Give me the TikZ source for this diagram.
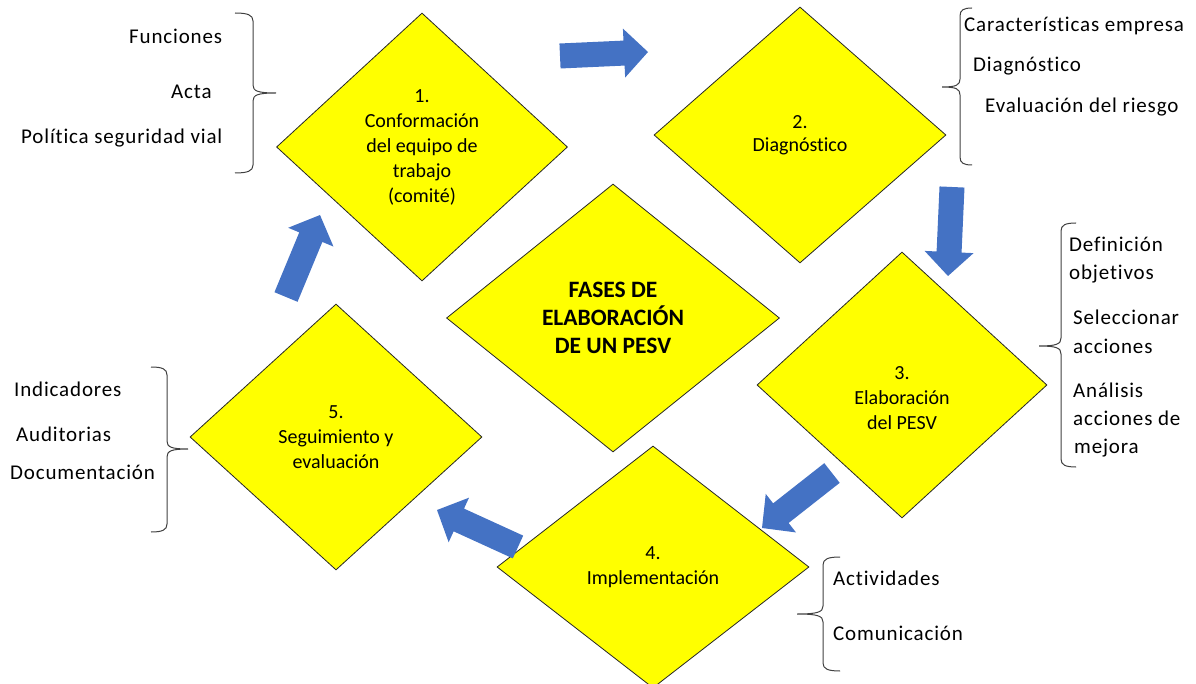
\documentclass[tikz,border=0pt]{standalone}
\usepackage{fontspec}
\setmainfont{Carlito}[Ligatures=NoCommon]
\newfontfamily\sidefont[LetterSpace=4,Ligatures=NoCommon]{Carlito}
\usetikzlibrary{shapes.geometric,calc}
\definecolor{dyellow}{HTML}{FFFF00}
\definecolor{ablue}{HTML}{4472C4}
\definecolor{bracegray}{HTML}{404040}
% block arrow from tail #1 to tip #2
\newcommand\blockarrow[2]{%
  \path ($(#2)!24pt!(#1)$) coordinate (#1hb);
  \fill[ablue] ($(#1)!12.5pt!90:(#2)$) -- ($(#1hb)!12.5pt!90:(#2)$) -- ($(#1hb)!24.5pt!90:(#2)$) -- (#2)
    -- ($(#1hb)!24.5pt!-90:(#2)$) -- ($(#1hb)!12.5pt!-90:(#2)$) -- ($(#1)!12.5pt!-90:(#2)$) -- cycle;}
% brace: #1 hook x, #2 stem x, #3 top y, #4 bottom y, #5 tip x, #6 tip y
\newcommand\sidebrace[6]{%
  \draw[bracel] (#1,#3) .. controls ({#2+(#1-#2)*0.3},#3) and (#2,#3+2) .. (#2,#3+8) -- (#2,#6-8)
    .. controls (#2,#6-2) and ({#2+(#5-#2)*0.2},#6) .. (#5,#6)
    .. controls ({#2+(#5-#2)*0.2},#6) and (#2,#6+2) .. (#2,#6+8) -- (#2,#4-8)
    .. controls (#2,#4-2) and ({#2+(#1-#2)*0.3},#4) .. (#1,#4);}
\begin{document}
\begin{tikzpicture}[x=1pt,y=-1pt,
  phase/.style={diamond, draw=black!85, line width=0.8pt, fill=dyellow, inner sep=0pt, align=center,
    font=\fontsize{20}{25}\selectfont},
  side/.style={anchor=base west, inner sep=0pt, font=\sidefont\fontsize{21}{26}\selectfont},
  bracel/.style={draw=bracegray, line width=1pt}]
\path[use as bounding box] (0,0) rectangle (1196,684);
\clip (0,0) rectangle (1196,684);

% diamonds
\node[phase, minimum width=291pt, minimum height=268pt] (d1) at (422,147)
  {1.\\Conformación\\del equipo de\\trabajo\\(comité)};
\node[phase, minimum width=292pt, minimum height=256pt, font=\fontsize{20}{23}\selectfont] (d2) at (800,135)
  {2.\\Diagnóstico};
\node[phase, minimum width=333pt, minimum height=268pt, font=\bfseries\fontsize{23.5}{27.7}\selectfont] (dc) at (613,318)
  {FASES DE\\ELABORACIÓN\\DE UN PESV};
\node[phase, minimum width=290pt, minimum height=266pt] (d3) at (902,385) {};
\node[align=center, inner sep=0pt, font=\fontsize{20}{25}\selectfont] (t3) at (902,398)
  {3.\\Elaboración\\del PESV};
\node[phase, minimum width=312pt, minimum height=242pt] (d4) at (653,567)
  {4.\\Implementación};
\node[phase, minimum width=292pt, minimum height=266pt] (d5) at (336,437)
  {5.\\Seguimiento y\\evaluación};

% block arrows
\coordinate (a12t) at (560,56);  \coordinate (a12h) at (648,52);
\coordinate (a23t) at (952,187); \coordinate (a23h) at (948,276);
\coordinate (a34t) at (832,473); \coordinate (a34h) at (762,528);
\coordinate (a45t) at (518,547); \coordinate (a45h) at (437,510);
\coordinate (a51t) at (286,297); \coordinate (a51h) at (320,215);
\blockarrow{a12t}{a12h}
\blockarrow{a23t}{a23h}
\blockarrow{a34t}{a34h}
\blockarrow{a45t}{a45h}
\blockarrow{a51t}{a51h}

% braces
\sidebrace{235}{253}{13}{173}{276}{93}
\sidebrace{972}{960}{8}{165}{942}{87}
\sidebrace{1076}{1061}{223}{467}{1039}{346}
\sidebrace{840}{823}{557}{671}{797}{614}
\sidebrace{151}{167}{367}{532}{188}{449}

% side texts
\node[side] (s1a) at (129,44) {Funciones};
\node[side] (s1b) at (171,99) {Acta};
\node[side] (s1c) at (21,144) {Política seguridad vial};
\node[side] (s2a) at (964,32) {Características empresa};
\node[side] (s2b) at (973,72) {Diagnóstico};
\node[side] (s2c) at (985,113) {Evaluación del riesgo};
\node[side] (s3a) at (1069,252) {Definición};
\node[side] (s3b) at (1069,280) {objetivos};
\node[side] (s3c) at (1073,325) {Seleccionar};
\node[side] (s3d) at (1073,353) {acciones};
\node[side] (s3e) at (1073,397) {Análisis};
\node[side] (s3f) at (1073,425) {acciones de};
\node[side] (s3g) at (1074,453) {mejora};
\node[side] (s4a) at (833,585) {Actividades};
\node[side] (s4b) at (833,640) {Comunicación};
\node[side] (s5a) at (14,396) {Indicadores};
\node[side] (s5b) at (16,441) {Auditorias};
\node[side] (s5c) at (10,479) {Documentación};
\end{tikzpicture}
\end{document}
